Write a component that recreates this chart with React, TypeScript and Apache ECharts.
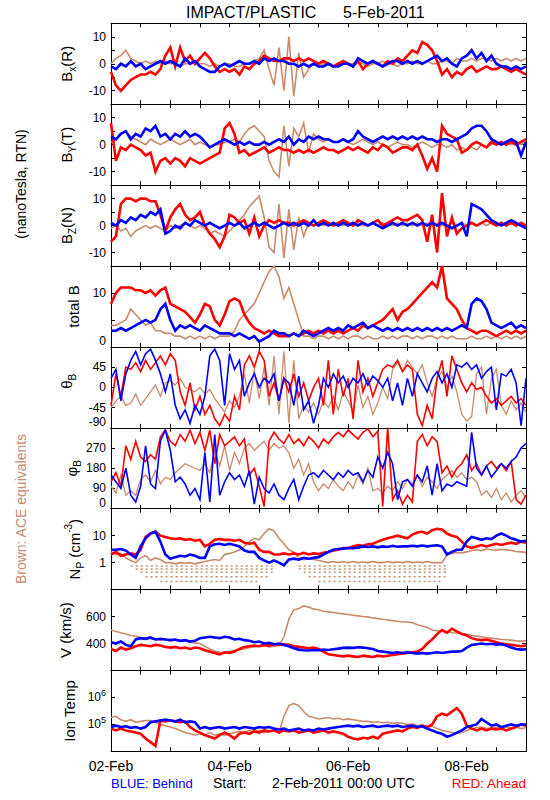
import React, { useEffect, useRef } from "react";
import * as echarts from "echarts";

// ---------------- data (2-hour samples, 2-Feb-2011 00:00 .. 9-Feb-2011 00:00) ----------------
const STEP_HOURS = 2;
const DATE_LABELS = ["02-Feb", "04-Feb", "06-Feb", "08-Feb"];
const DATE_LABEL_HOURS = [0, 48, 96, 144];

const BX_RED = [
  -3, -8, -10, -8, -6, -5, -4, -4, -3, -4, -2, 3,
  6, -1, 6, 1, 3, 0, 2, 4, 2, -1, -3, -2,
  -3, -2, -4, -1, -2, 0, 1, 3, 2, 1, 1, 2,
  2, 1, 2, 1, 2, 1, 0, 1, 0, -1, 0, 1,
  0, -1, 1, -2, 0, 1, 0, -1, 1, 0, 2, 1,
  3, 5, 4, 8, 7, 5, 1, -4, -2, -5, -3, -4,
  -2, -1, -3, -2, -1, -2, -2, -1, -2, -3, -2, -3, -4,
];
const BX_BLUE = [
  -1, -2, 0, -1, 1, -1, 0, -2, -1, 0, 1, 0,
  1, 0, -1, 2, 0, 1, -1, -2, -3, -3, -1, 0,
  -1, 0, 1, 0, 0, 1, 0, 2, 1, 2, 1, 1,
  0, 0, -1, 0, -1, 0, -1, -1, 0, -1, -1, 0,
  0, -1, 2, 1, 0, 1, 0, -1, 0, 1, 1, 0,
  1, 0, 1, 0, 1, 2, 3, 1, 2, 0, -1, 2,
  3, 5, 2, 4, 1, 3, 0, -1, -1, -2, -1, -2, -1,
];
const BX_BROWN = [
  0, 2, 3, 5, 2, 1, 0, 1, 0, 1, 0, 1,
  0, 0, -1, 0, 0, 1, 0, 0, -1, 0, -1, 0,
  0, -1, -1, 0, 0, 1, 2, 5, -2, -8, 6, -10,
  10, -12, 4, -5, -2, 0, -1, 0, 0, -1, 0, 1,
  0, 0, 1, 0, -1, 0, 0, 1, 0, 0, -1, 0,
  0, 1, 0, 0, 1, 0, 0, 1, 1, 0, 2, 1,
  1, 2, 1, 2, 2, 1, 2, 1, 2, 1, 2, 1, 2,
];

const BY_RED = [
  8, -6, -1, -2, 0, -1, -2, -4, -3, -10, -6, -5,
  -7, -5, -6, -8, -5, -6, -7, -6, -5, -4, -3, 6,
  8, 4, -3, -2, -4, -3, -2, -1, -3, -2, -1, -2,
  -2, -3, -2, -3, -2, -3, -2, -1, -2, -2, -3, -2,
  -1, -2, -1, -2, -3, -1, -2, 0, -1, -3, -2, -1,
  -1, -2, 0, -4, -9, -5, -10, 7, 4, 3, 2, -3,
  -2, 0, 1, 0, -1, 1, 0, 1, 0, 1, 0, 1, 2,
];
const BY_BLUE = [
  3, 2, 4, 5, 2, 4, 3, 6, 5, 7, 3, 4,
  2, 4, 3, 5, 3, 4, 3, 1, -1, 0, 1, 2,
  1, 0, 1, 0, 1, 0, 0, 1, 0, 1, 2, 1,
  3, 0, 2, 1, 3, 2, 3, 2, 2, 1, 1, 2,
  1, 2, 5, 3, 2, 1, 2, 3, 2, 3, 2, 3,
  2, 3, 2, 3, 2, 2, 1, 2, 2, 1, 2, 3,
  4, 6, 7, 7, 5, 2, 1, 0, 1, 2, 1, -4, 1,
];
const BY_BROWN = [
  1, 2, 4, 5, 3, 2, 1, 0, 2, 1, 0, 1,
  2, 1, 0, 1, 2, 0, 1, 0, -1, 0, 0, 1,
  1, 2, 1, 4, 6, 7, 5, 3, -6, -10, -12, 7,
  -8, 6, 3, 8, -3, 4, 2, 1, 2, 1, 1, 2,
  1, 0, 1, 2, 1, 0, 1, 0, -1, 0, 1, 0,
  0, -1, 0, 1, 0, -1, 0, 0, -1, 0, -2, -1,
  -2, -1, -2, 0, -1, 0, 1, 0, 1, 0, 1, 0, 1,
];

const BZ_RED = [
  -6, -4, 8, 10, 10, 9, 10, 10, 9, 9, 4, -2,
  3, 6, 8, 4, 2, 3, 5, 0, -3, -5, -8, -4,
  4, 3, 1, 2, -3, 3, -4, 0, 2, 1, 2, 1,
  1, 0, 1, 2, 1, 0, 1, 2, 1, 0, 1, 2,
  1, 0, 2, 1, 0, 1, 2, 0, 1, 2, 3, 2,
  2, 3, 4, 2, -6, 4, -10, 12, -4, 3, -3, -1,
  0, 1, 0, 1, 2, 1, 0, 1, 0, 1, 0, 1, 0,
];
const BZ_BLUE = [
  1, 0, 2, 1, 3, 2, 4, 3, 5, 4, 6, -3,
  -2, 0, -1, 1, 0, 2, 1, 0, 1, 0, -1, 0,
  1, 0, 1, -1, 0, 1, 0, 1, 0, -1, 0, 1,
  0, 1, 0, 1, 0, 2, 0, 1, 0, 1, 0, 1,
  0, 1, 0, 1, 0, 1, 0, -1, 0, 1, 0, 1,
  0, 1, 0, 1, 0, 1, 0, 1, 0, -1, 0, 1,
  -4, 8, 7, 6, 4, 2, 1, 0, 1, 2, 1, 0, -1,
];
const BZ_BROWN = [
  -1, 0, -2, -1, -4, -2, -1, 0, -1, 0, -1, -2,
  0, -1, 0, 1, 0, -1, 0, -1, -3, -2, -3, -4,
  -2, 0, 2, 4, 7, 9, 11, 3, -8, -10, 8, -12,
  6, -9, 3, -4, 1, 0, 1, 0, 1, 0, 1, 0,
  1, 0, 1, 0, 0, 1, 0, 1, 0, 0, 1, 0,
  1, 0, 1, 0, 1, 0, 1, 0, 0, 1, 0, 1,
  0, 1, 0, 1, 0, 1, 0, 1, 0, 1, 0, 1, 0,
];

const BT_RED = [
  8, 10, 11, 11, 11, 10.5, 10.5, 10, 10.5, 9.5, 10.5, 11,
  8, 7.5, 7, 6.5, 5.5, 4.5, 6, 8, 7.5, 5, 4, 6,
  8.5, 9, 8.5, 6, 4.5, 3.5, 3, 2.5, 3, 2.5, 2, 2,
  2, 2.5, 2, 2.5, 3, 2.5, 3, 2.5, 3, 2.5, 3, 2.5,
  3, 3.5, 3, 4, 3.5, 4, 4.5, 5, 6, 7, 5, 6.5,
  7, 8, 9, 10, 11, 12, 11, 15, 9, 8, 7, 5,
  3.5, 3, 2.5, 3, 3, 2.5, 2, 2.5, 3, 2.5, 3, 2.5, 3,
];
const BT_BLUE = [
  3, 3, 3.5, 3, 3.5, 4, 4.5, 5, 4.5, 5, 7, 8,
  5, 3, 4, 3.5, 4, 3.5, 3, 4, 3.5, 3, 2.5, 2.5,
  2.5, 2, 2.5, 2, 1.5, 2, 1, 1.5, 2, 3, 2.5, 2.5,
  2, 2.5, 2, 3, 2.5, 2, 2.5, 3, 3.5, 3, 3.5, 3,
  4, 3.5, 4, 4.5, 3.5, 4, 3.5, 3, 3.5, 3, 3.5, 3,
  3.5, 3, 3.5, 3, 3.5, 3, 3.5, 3, 3.5, 3, 3.5, 4,
  3.5, 8, 9, 8.5, 7, 4.5, 4, 3.5, 4, 4.5, 3.5, 4, 3.5,
];
const BT_BROWN = [
  4, 4, 4.5, 5, 7, 6, 5, 4, 4.5, 3, 3, 2.5,
  2.5, 2, 2, 1.5, 2, 1.5, 2, 1.5, 2, 1.5, 2, 2,
  2, 3, 5, 6, 7, 8, 10, 12, 14, 15, 13, 9,
  11, 8, 5, 2, 2, 1.5, 2, 2, 1.5, 2, 1.5, 2,
  1.5, 2, 2, 1.5, 2, 1.5, 1.5, 2, 1.5, 2, 1.5, 2,
  2, 1.5, 2, 1.5, 2, 2, 1.5, 2, 1.5, 2, 1.5, 1.5,
  1.5, 2, 1.5, 1.5, 2, 1.5, 2, 1.5, 2, 1.5, 2, 1.5, 2,
];

const TH_RED = [
  -40, 30, -20, 45, 40, 55, 35, 60, 40, 55, 70, 50,
  75, 60, -10, -40, 10, -50, -20, -60, -40, -70, -85, -60,
  -75, -20, -50, 50, 70, 45, 80, 60, -20, 10, -30, 20,
  -10, 30, -20, 10, -30, 0, 20, -40, 60, -60, 40, -20,
  20, -70, 60, -10, 20, -20, 10, 40, 50, 45, 60, 35,
  50, 40, -60, -85, -40, -70, 20, 60, -20, 70, 40, 10,
  -10, 10, -5, 0, -20, -35, -25, -40, -30, -20, -35, -25, -40,
];
const TH_BLUE = [
  20, 40, -30, 30, 60, 80, 50, 75, 85, 60, 30, -10,
  30, -40, -70, -50, -80, -40, -60, -20, 70, 85, 60, -40,
  75, 40, 60, -20, 10, 30, 0, 20, 10, 30, -30, 20,
  10, -40, 25, -50, -30, -80, -40, 20, 0, 30, 10, 25,
  0, 20, 10, 30, 5, 25, 15, 0, 20, -30, 10, -40,
  20, -20, 30, 10, -10, 20, 35, 10, 30, 0, 50, 45,
  55, 40, 50, 20, 35, 45, -50, 30, 25, 40, 10, -85, 20,
];
const TH_BROWN = [
  -45, -30, -20, -40, -35, -15, -40, -25, -10, 5, -20, 10,
  15, 5, 20, 0, -5, -10, 0, -15, -5, -25, -40, -55,
  -30, -45, -20, 30, -35, 40, -25, 45, -40, 70, -60, 80,
  -80, 60, -70, -40, -55, -35, -60, -30, -45, -20, -50, -10,
  -30, -55, 5, -45, -20, -60, -35, 0, -25, 40, 55, 35,
  60, 45, 30, 50, 10, -20, 20, 35, 0, 25, -10, -60,
  -75, -65, 30, 45, -60, 20, 40, -40, -60, -30, -50, -35, -55,
];

const PH_RED = [
  120, 160, 100, 280, 220, 300, 230, 210, 240, 220, 320, 350,
  300, 280, 330, 300, 350, 290, 340, 260, 350, 200, 330, 280,
  300, 320, 280, 310, 150, 180, 100, 10, 300, 340, 310, 290,
  330, 290, 310, 280, 320, 300, 270, 310, 290, 320, 340, 320,
  350, 330, 310, 340, 355, 320, 345, 10, 360, 40, 80, 20,
  60, 30, 300, 330, 280, 320, 300, 160, 190, 140, 180, 200,
  240, 170, 200, 150, 190, 210, 180, 200, 170, 210, 40, 20, 60,
];
const PH_BLUE = [
  150, 120, 90, 180, 60, 30, 100, 280, 110, 90, 300, 350,
  260, 120, 140, 110, 60, 90, 40, 250, 30, 330, 60, 120,
  160, 130, 150, 100, 170, 20, 140, 90, 70, 110, 60, 40,
  90, 130, 40, 100, 150, 160, 140, 170, 150, 130, 160, 140,
  170, 150, 160, 120, 170, 140, 230, 180, 250, 200, 40, 120,
  130, 100, 150, 120, 190, 60, 200, 80, 110, 100, 120, 110,
  100, 340, 180, 150, 190, 140, 170, 200, 180, 210, 230, 270, 290,
];
const PH_BROWN = [
  100, 70, 150, 60, 80, 60, 130, 150, 120, 170, 110, 140,
  130, 160, 180, 200, 190, 180, 170, 200, 160, 260, 190, 280,
  170, 250, 200, 270, 290, 260, 280, 300, 260, 290, 270, 280,
  250, 180, 220, 150, 200, 120, 80, 110, 90, 130, 100, 80,
  120, 90, 150, 110, 180, 80, 90, 70, 100, 80, 120, 90,
  130, 110, 150, 100, 140, 120, 90, 130, 150, 170, 140, 160,
  130, 140, 120, 60, 80, 50, 90, 40, 70, 30, 60, 80, 50,
];

const NP_RED = [
  2, 2.5, 1.8, 2, 2.2, 2, 3, 9, 12, 14, 10, 9,
  8, 7.5, 8, 7, 7.5, 6.5, 7, 4, 5, 7, 7.5, 7,
  7, 6.5, 7, 5.5, 5, 5.5, 3, 2.5, 2.5, 2, 2, 2.2,
  2, 2.2, 2, 2.3, 2, 2.2, 2.1, 2.3, 2.5, 2.8, 3, 3.5,
  3.5, 4, 4.5, 4.2, 4.8, 5, 6, 7, 8, 9, 10, 9,
  8, 11, 13, 14, 12, 16, 18, 17, 12, 10, 9, 6,
  4, 3.5, 4, 4.5, 4, 4.5, 5, 4.5, 5, 5.5, 5, 6, 5.5,
];
const NP_BLUE = [
  3, 3, 3.2, 2.8, 2, 1.5, 4, 8, 12, 14, 6, 2,
  1.4, 1.6, 1.8, 1.7, 2, 1.8, 1.5, 1.5, 4, 4.8, 5, 4.5,
  5, 4.5, 4, 2.8, 2.5, 2.5, 1.5, 1.2, 1, 1.2, 1, 0.8,
  1.3, 1.4, 1.3, 1.5, 1.4, 1.5, 1.6, 2, 2.5, 3, 3.2, 3.3,
  3.5, 3.4, 3.6, 4, 3.8, 4, 3.7, 4, 3.8, 4.2, 3.9, 4,
  4, 4.2, 4, 4.3, 4, 4.2, 4.4, 4, 2, 2.5, 3, 3,
  6, 9, 8, 7, 8, 7.5, 10, 12, 10, 8, 7, 6, 6.5,
];
const NP_BROWN = [
  2.5, 2, 2.2, 1.5, 1.2, 1, 1.5, 1.8, 1.2, 1.5, 1.3, 1,
  1, 0.9, 1, 0.95, 1, 0.9, 1, 1.1, 1.2, 1.3, 1.2, 2,
  2.2, 2.5, 3, 4, 6, 8, 7, 12, 18, 15, 8, 5,
  3, 2.5, 1.5, 1.3, 1.4, 1.3, 1.2, 1.1, 1, 1.1, 1, 1.1,
  1, 1.1, 1, 1.05, 1, 1.1, 1, 1, 1.1, 1, 1.05, 1,
  1.1, 1, 1.05, 1, 1.1, 1, 1, 1, 2, 2.2, 2.4, 2.3,
  2.5, 2.8, 3, 2.8, 3.2, 3, 2.9, 3.1, 3, 2.8, 2.6, 2.5, 2.4,
];
// quantised low-count ACE density rows (cm^-3) and the hour spans where they appear
const NP_ACE_FLOOR_LEVELS = [0.75, 0.58, 0.44, 0.3, 0.2];
const NP_ACE_FLOOR_SPANS = [
  [[8, 66], [76, 136]],
  [[10, 66], [76, 136]],
  [[12, 66], [78, 136]],
  [[14, 64], [80, 136]],
  [[20, 60], [84, 134]],
];

const V_RED = [
  360, 345, 370, 355, 365, 380, 390, 385, 380, 390, 385, 375,
  370, 375, 365, 370, 360, 370, 365, 350, 340, 330, 320, 335,
  330, 340, 360, 375, 380, 385, 380, 390, 385, 395, 390, 395,
  390, 380, 375, 370, 365, 370, 360, 340, 320, 315, 310, 305,
  310, 305, 300, 310, 305, 300, 310, 305, 310, 315, 320, 325,
  330, 335, 340, 360, 400, 430, 470, 500, 480, 510, 490, 470,
  460, 440, 430, 425, 430, 420, 410, 400, 395, 390, 385, 380, 385,
];
const V_BLUE = [
  410, 400, 415, 390, 380, 430, 440, 435, 445, 430, 435, 430,
  425, 430, 420, 425, 415, 420, 440, 445, 450, 445, 440, 450,
  445, 430, 435, 425, 420, 410, 415, 400, 405, 395, 400, 390,
  380, 365, 355, 350, 348, 352, 350, 355, 352, 358, 362, 368,
  370, 368, 372, 370, 365, 360, 345, 340, 335, 330, 335, 330,
  335, 330, 325, 330, 325, 330, 335, 330, 335, 340, 340, 345,
  370, 390, 395, 400, 395, 398, 392, 395, 385, 370, 360, 355, 358,
];
const V_BROWN = [
  500, 490, 480, 470, 460, 455, 445, 440, 435, 430, 425, 430,
  420, 425, 415, 420, 410, 405, 400, 380, 360, 345, 335, 330,
  340, 350, 355, 360, 370, 375, 380, 385, 375, 380, 385, 450,
  580, 650, 660, 680, 670, 655, 650, 640, 635, 630, 625, 620,
  615, 610, 605, 600, 598, 590, 585, 580, 575, 570, 565, 560,
  560, 555, 540, 530, 520, 500, 495, 490, 488, 480, 478, 475,
  470, 460, 455, 450, 445, 440, 435, 430, 428, 425, 420, 418, 420,
];

const T_RED = [
  7e4, 6e4, 7e4, 6e4, 5.5e4, 5e4, 4.5e4, 3e4, 2.2e4, 1.6e4, 1.4e5, 1.3e5,
  1.4e5, 1.3e5, 1.2e5, 1.3e5, 8e4, 6e4, 5e4, 4e4, 3.5e4, 3e4, 4e4, 5e4,
  4e4, 3e4, 4.5e4, 5e4, 4.5e4, 5.5e4, 5e4, 6e4, 5.5e4, 6e4, 5e4, 6e4,
  5.5e4, 6e4, 5e4, 5.5e4, 6e4, 5e4, 5.5e4, 6e4, 5e4, 5.5e4, 5e4, 4.5e4,
  3.5e4, 3e4, 2.8e4, 3.2e4, 3e4, 3.5e4, 3e4, 4.5e4, 5e4, 5.5e4, 6e4, 5.5e4,
  7e4, 8e4, 7.5e4, 9e4, 8e4, 1e5, 2e5, 2.5e5, 2.2e5, 3e5, 4e5, 2.5e5,
  9e4, 7e4, 6e4, 7e4, 6e4, 7e4, 6.5e4, 7e4, 6e4, 7e4, 8e4, 1e5, 9e4,
];
const T_BLUE = [
  8e4, 9e4, 8e4, 8.5e4, 7.5e4, 8e4, 7e4, 8e4, 1.2e5, 1.3e5, 1.4e5, 1.5e5,
  1.4e5, 1.3e5, 1.5e5, 1.2e5, 1.3e5, 1.2e5, 7e4, 8e4, 7e4, 7.5e4, 8e4, 7e4,
  7.5e4, 8e4, 7e4, 8e4, 7.5e4, 7e4, 8e4, 7.5e4, 8e4, 7e4, 6.5e4, 7e4,
  6e4, 6.5e4, 7e4, 6e4, 6.5e4, 6e4, 7e4, 6.5e4, 7e4, 7.5e4, 8e4, 8.5e4,
  9e4, 8.5e4, 9e4, 8e4, 8.5e4, 9e4, 8e4, 8.5e4, 9e4, 8.5e4, 9e4, 8e4,
  8.5e4, 9e4, 8e4, 8.5e4, 7e4, 6e4, 5e4, 4.5e4, 3.5e4, 4e4, 5e4, 6e4,
  8e4, 9e4, 1e5, 1.6e5, 1.2e5, 9e4, 1e5, 8e4, 9e4, 1e5, 9e4, 1e5, 1e5,
];
const T_BROWN = [
  1.8e5, 2e5, 1.5e5, 1.3e5, 1.5e5, 1.2e5, 1.3e5, 1.4e5, 1.4e5, 1.2e5, 1e5, 9e4,
  8e4, 7e4, 6e4, 5e4, 4.5e4, 4e4, 4.5e4, 4e4, 5e4, 4e4, 4.5e4, 4e4,
  4.5e4, 5e4, 5.5e4, 5e4, 6e4, 5.5e4, 6e4, 5e4, 5.5e4, 6e4, 5e4, 2e5,
  5e5, 6e5, 5e5, 3e5, 2e5, 1.8e5, 1.6e5, 1.7e5, 1.8e5, 1.6e5, 1.7e5, 1.5e5,
  1.6e5, 1.5e5, 1.4e5, 1.3e5, 1.3e5, 1.2e5, 1.25e5, 1.15e5, 1.2e5, 1.1e5, 1.15e5, 1.1e5,
  1e5, 1.05e5, 9e4, 9.5e4, 8e4, 8.5e4, 7e4, 6e4, 5.5e4, 5e4, 4.5e4, 5e4,
  6e4, 7e4, 7.5e4, 8e4, 7e4, 7.5e4, 8e4, 7e4, 8e4, 7.5e4, 8e4, 7e4, 7.5e4,
];

// ---------------- styling ----------------
const RED = "#ff0000";
const BLUE = "#0000ff";
const BROWN = "#c98a6b";
const FONT = '"Liberation Sans", Arial, Helvetica, sans-serif';

const PLOT_LEFT = 111;
const PLOT_WIDTH = 415;
const PLOT_TOP = 23.3;
const PANEL_H = 80.9;
const X_MAX = 168;

type Panel = {
  name: string;
  nameX: number;
  nameDy?: number;
  min: number;
  max: number;
  interval?: number;
  log?: boolean;
  labels: number[];
  sup?: boolean;
  minBottom?: boolean;
  noisy?: boolean;
  red: number[];
  blue: number[];
  brown: number[];
};

const PANELS: Panel[] = [
  { name: "{m|B}{s|x}{m|(R)}", nameX: 66, min: -15, max: 15, interval: 5, labels: [-10, 0, 10], red: BX_RED, blue: BX_BLUE, brown: BX_BROWN },
  { name: "{m|B}{s|Y}{m|(T)}", nameX: 66, min: -15, max: 15, interval: 5, labels: [-10, 0, 10], red: BY_RED, blue: BY_BLUE, brown: BY_BROWN },
  { name: "{m|B}{s|Z}{m|(N)}", nameX: 66, min: -15, max: 15, interval: 5, labels: [-10, 0, 10], red: BZ_RED, blue: BZ_BLUE, brown: BZ_BROWN },
  { name: "{m|total B}", nameX: 73, min: 0, max: 15, interval: 5, labels: [0, 10], minBottom: true, red: BT_RED, blue: BT_BLUE, brown: BT_BROWN },
  { name: "{m|θ}{s|B}", nameX: 66, nameDy: -6, min: -90, max: 90, interval: 45, labels: [-90, -45, 0, 45], minBottom: true, noisy: true, red: TH_RED, blue: TH_BLUE, brown: TH_BROWN },
  { name: "{m|φ}{s|B}", nameX: 71, min: 0, max: 360, interval: 90, labels: [0, 90, 180, 270], minBottom: true, noisy: true, red: PH_RED, blue: PH_BLUE, brown: PH_BROWN },
  { name: "{m|N}{s|P}{m| (cm}{p|-3}{m|)}", nameX: 74, min: 0.1, max: 100, log: true, labels: [1, 10], red: NP_RED, blue: NP_BLUE, brown: NP_BROWN },
  { name: "{m|V (km/s)}", nameX: 65, min: 200, max: 800, interval: 200, labels: [400, 600], red: V_RED, blue: V_BLUE, brown: V_BROWN },
  { name: "{m|Ion Temp}", nameX: 69, min: 1e4, max: 1e7, log: true, sup: true, labels: [1e5, 1e6], red: T_RED, blue: T_BLUE, brown: T_BROWN },
];

function toPoints(arr: number[]) {
  return arr.map((v, i) => [i * STEP_HOURS, v]);
}

function isLabel(v: number, labels: number[]) {
  return labels.some((l) => Math.abs(v - l) <= Math.abs(l) * 1e-6 + 1e-9);
}

function buildOption() {
  const grid: any[] = [];
  const xAxis: any[] = [];
  const yAxis: any[] = [];
  const series: any[] = [];
  const graphic: any[] = [];

  const tick = { show: true, inside: true, length: 4, lineStyle: { color: "#000", width: 1 } };
  const line = { show: true, onZero: false, lineStyle: { color: "#000", width: 1 } };

  PANELS.forEach((p, k) => {
    const top = PLOT_TOP + k * PANEL_H;
    grid.push({ left: PLOT_LEFT, width: PLOT_WIDTH, top, height: PANEL_H, show: false, containLabel: false });

    xAxis.push({
      gridIndex: k, type: "value", position: "bottom", min: 0, max: X_MAX, interval: 12,
      axisLine: line, axisTick: tick, splitLine: { show: false },
      axisLabel: {
        show: k === PANELS.length - 1, margin: 8, fontSize: 14, fontFamily: FONT, color: "#000",
        formatter: (v: number) => {
          const j = DATE_LABEL_HOURS.indexOf(v);
          return j >= 0 ? DATE_LABELS[j] : "";
        },
      },
    });
    xAxis.push({
      gridIndex: k, type: "value", position: "top", min: 0, max: X_MAX, interval: 12,
      axisLine: line, axisTick: tick, splitLine: { show: false }, axisLabel: { show: false },
    });

    const base: any = p.log
      ? { type: "log", logBase: 10, min: p.min, max: p.max }
      : { type: "value", min: p.min, max: p.max, interval: p.interval };

    yAxis.push({
      gridIndex: k, ...base, position: "left",
      axisLine: line, axisTick: tick, splitLine: { show: false },
      axisLabel: {
        margin: 5, fontSize: 12, fontFamily: FONT, color: "#000",
        showMinLabel: true, showMaxLabel: true,
        verticalAlignMinLabel: p.minBottom ? "bottom" : undefined,
        formatter: (v: number) => {
          if (!isLabel(v, p.labels)) return "";
          if (p.sup) return "{b|10}{e|" + Math.round(Math.log10(v)) + "}";
          return String(v);
        },
        rich: {
          b: { fontSize: 12, lineHeight: 18, fontFamily: FONT, color: "#000" },
          e: { fontSize: 9, verticalAlign: "top", fontFamily: FONT, color: "#000" },
        },
      },
    });
    yAxis.push({
      gridIndex: k, ...base, position: "right",
      axisLine: line, axisTick: tick, splitLine: { show: false }, axisLabel: { show: false },
    });

    const traces: [number[], string, number][] = [
      [p.brown, BROWN, p.noisy ? 1.3 : 1.6],
      [p.red, RED, p.noisy ? 1.6 : 2.6],
      [p.blue, BLUE, p.noisy ? 1.6 : 2.6],
    ];
    traces.forEach(([arr, color, w]) => {
      series.push({
        type: "line", xAxisIndex: 2 * k, yAxisIndex: 2 * k,
        data: toPoints(arr), showSymbol: false, symbol: "none",
        clip: true, silent: true,
        lineStyle: { color, width: w, join: "miter" }, itemStyle: { color },
      });
    });

    if (k === 6) {
      NP_ACE_FLOOR_LEVELS.forEach((lvl, li) => {
        const pts: any[] = [];
        NP_ACE_FLOOR_SPANS[li].forEach(([a, b], si) => {
          if (si > 0) pts.push([(a + pts[pts.length - 1][0]) / 2, "-"]);
          pts.push([a, lvl], [b, lvl]);
        });
        series.push({
          type: "line", xAxisIndex: 2 * k, yAxisIndex: 2 * k, data: pts,
          showSymbol: false, symbol: "none", clip: true, silent: true, connectNulls: false,
          lineStyle: { color: BROWN, width: 1.5, type: [2, 3] }, itemStyle: { color: BROWN },
          z: 1,
        });
      });
    }

    graphic.push({
      type: "text", x: p.nameX, y: top + PANEL_H / 2 + (p.nameDy || 0), rotation: Math.PI / 2,
      style: {
        text: p.name, align: "center", verticalAlign: "middle", fill: "#000",
        fontSize: 15, fontFamily: FONT,
        rich: {
          m: { fontSize: 15, lineHeight: 22, fontFamily: FONT, fill: "#000" },
          s: { fontSize: 10, verticalAlign: "bottom", fontFamily: FONT, fill: "#000" },
          p: { fontSize: 10, verticalAlign: "top", fontFamily: FONT, fill: "#000" },
        },
      },
    });
  });

  const txt = (text: string, x: number, y: number, opts: any = {}) => ({
    type: "text", x, y, rotation: opts.rotation || 0,
    style: {
      text, fill: opts.fill || "#000", fontSize: opts.fontSize || 14, fontFamily: FONT,
      align: opts.align || "left", verticalAlign: "middle",
    },
  });

  graphic.push(txt("IMPACT/PLASTIC", 186, 12.5, { fontSize: 16 }));
  graphic.push(txt("5-Feb-2011", 343, 12.5, { fontSize: 16 }));
  graphic.push(txt("(nanoTesla, RTN)", 20.5, 184, { rotation: Math.PI / 2, align: "center" }));
  graphic.push(txt("Brown: ACE equivalents", 20.5, 509, { rotation: Math.PI / 2, align: "center", fill: BROWN }));
  graphic.push(txt("BLUE: Behind", 111, 783, { fill: BLUE, fontSize: 13 }));
  graphic.push(txt("Start:", 213, 783));
  graphic.push(txt("2-Feb-2011 00:00 UTC", 343.5, 783, { align: "center" }));
  graphic.push(txt("RED: Ahead", 526, 783, { fill: RED, align: "right", fontSize: 13.5 }));

  return {
    animation: false,
    backgroundColor: "#ffffff",
    grid, xAxis, yAxis, series, graphic,
  };
}

export default function App() {
  const ref = useRef<HTMLDivElement>(null);
  useEffect(() => {
    if (!ref.current) return;
    const chart = echarts.init(ref.current, undefined, { renderer: "svg" });
    chart.setOption(buildOption() as any);
    return () => chart.dispose();
  }, []);
  return (
    <div
      ref={ref}
      style={{ position: "fixed", left: 0, top: 0, width: 550, height: 800, background: "#fff" }}
    />
  );
}
